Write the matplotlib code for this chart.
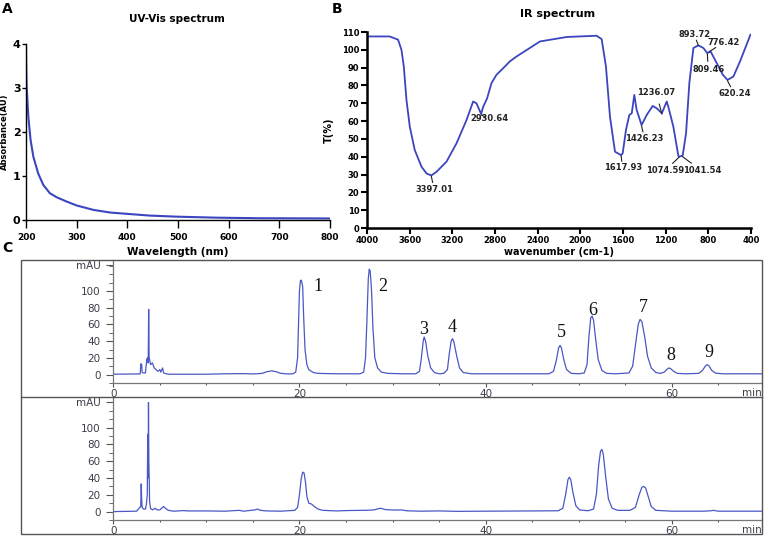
import numpy as np
import matplotlib
matplotlib.use("Agg")
import matplotlib.pyplot as plt
from matplotlib.lines import Line2D
from matplotlib.patches import Rectangle

W, H = 764, 537

# ---------------- data ----------------
# A: UV-Vis absorbance
uv_wl = [200, 200.5, 201.3, 204.6, 209, 214.5, 224, 234, 247, 260, 280, 300,
         333, 366, 399, 445, 497, 576, 662, 730, 800]
uv_abs = [4.0, 3.4, 3.03, 2.35, 1.82, 1.44, 1.06, 0.80, 0.61, 0.52, 0.42, 0.33,
          0.23, 0.17, 0.14, 0.10, 0.076, 0.053, 0.04, 0.038, 0.035]

# B: IR transmittance
ir_wn = [4000, 3787, 3709, 3677, 3655, 3630, 3599, 3552, 3489, 3442, 3397, 3349,
         3255, 3161, 3067, 3005, 2974, 2930, 2911, 2874, 2833, 2786, 2723, 2661,
         2597, 2378, 2128, 1847, 1800, 1760, 1722, 1675, 1618, 1603, 1572, 1541,
         1518, 1494, 1472, 1426, 1378, 1322, 1284, 1236, 1190, 1175, 1128, 1081,
         1074, 1050, 1041, 1009, 978, 940, 894, 846, 809, 784, 776, 721, 664, 620,
         565, 503, 405]
ir_t = [107.5, 107.5, 105.7, 100, 90.7, 71.9, 56.9, 43.7, 34.4, 30.6, 29.5, 31.5,
        37.2, 47.5, 60.6, 71, 70, 64, 68, 72.8, 81.3, 86, 89.7, 93.5,
        96.3, 104.7, 107.2, 107.9, 106, 90.7, 62.5, 42.8, 40.9, 41.9, 55, 63.4,
        64.4, 74.7, 66.3, 57.8, 63.4, 68.5, 67.2, 64.4, 71, 68, 56.9, 40.5,
        40, 40.5, 40.5, 53.1, 81.3, 101, 102.5, 101, 98.1, 99, 98.8, 92.5, 86, 83.1,
        85, 93.5, 108.5]

ir_labels = ["3397.01", "2930.64", "1617.93", "1426.23", "1236.07", "1074.59",
             "1041.54", "893.72", "776.42", "809.46", "620.24"]
ir_peak_wn = [3397, 2930, 1618, 1426, 1236, 1074, 1041, 894, 790, 809, 620]
ir_peak_t = [29.0, 63.5, 40.5, 57.3, 64.0, 39.8, 40.0, 102.5, 99.0, 97.5, 82.6]
ir_text_wn = [3370, 2855, 1603, 1398, 1289, 1208, 860, 933, 660, 801, 557]
ir_text_t = [21.5, 61.2, 33.8, 50.0, 76.3, 32.0, 32.0, 108.8, 104.0, 88.8, 75.3]

# C: chromatograms (retention time in min, signal in mAU)
std_t = [0, 2.6, 2.9, 2.95, 3.05, 3.1, 3.2, 3.45, 3.5, 3.6, 3.7, 3.75, 3.8, 3.85,
         3.9, 4.0, 4.2, 4.4, 4.6, 4.8, 5.0, 5.1, 5.3, 5.4, 5.7, 6, 10, 12, 14, 15,
         16.0, 16.5, 17.0, 17.5, 18.0, 18.8, 19.3, 19.6, 19.8, 19.9, 20.0, 20.1,
         20.2, 20.35, 20.45, 20.6, 20.8, 21.0, 21.5, 22, 24, 26.5, 26.9, 27.1,
         27.25, 27.4, 27.5, 27.6, 27.75, 27.9, 28.1, 28.4, 28.8, 29.5, 31, 32.5,
         32.9, 33.1, 33.3, 33.4, 33.55, 33.8, 34.1, 34.5, 35, 35.5, 35.9, 36.1,
         36.3, 36.45, 36.6, 36.9, 37.2, 37.6, 38.5, 46.8, 47.3, 47.6, 47.85, 48.0,
         48.15, 48.4, 48.7, 49.2, 50, 50.6, 50.9, 51.1, 51.3, 51.45, 51.6, 51.8,
         52.1, 52.5, 53, 54, 55.4, 55.8, 56.1, 56.4, 56.6, 56.8, 57.1, 57.4, 57.8,
         58.3, 58.8, 59.2, 59.5, 59.7, 59.9, 60.2, 60.6, 61.5, 62.9, 63.3, 63.6,
         63.8, 64.0, 64.3, 64.7, 65.5, 69.7]
std_mau = [0.5, 0.8, 1, 13, 12, 3, 2, 2, 8, 19, 20, 14, 78, 20,
           18, 12, 14, 8, 6, 4, 6, 3, 8, 2, 1, 0.5, 0.5, 1, 1.2, 0.8,
           1.5, 3.5, 4.5, 3.5, 1.5, 0.8, 1, 3, 20, 60, 100, 112,
           113, 105, 70, 30, 12, 6, 2.5, 1.5, 1, 1, 3, 20,
           65, 115, 126, 124, 100, 55, 20, 8, 3, 1.5, 1, 1,
           4, 20, 40, 45, 40, 22, 8, 2.5, 1, 1.5, 6, 25,
           40, 43, 39, 22, 8, 2.5, 1, 1, 4, 17, 32, 35,
           32, 18, 6, 1.5, 1, 2, 12, 45, 68, 70, 65, 45,
           18, 5, 1.5, 1, 2, 10, 35, 60, 66, 63, 45, 22, 8,
           2.5, 1.5, 3, 6.5, 8, 7, 4, 1.5, 1, 1.5, 5, 10,
           12, 10.5, 5, 1.8, 1, 1]

smp_t = [0, 2.5, 2.7, 2.85, 2.95, 3.0, 3.05, 3.1, 3.25, 3.45, 3.55, 3.65, 3.7,
         3.75, 3.78, 3.82, 3.86, 3.9, 4.0, 4.2, 4.5, 4.7, 5.0, 5.4, 5.6, 5.9, 6.5,
         7.5, 8, 10, 12, 13.5, 14, 15.2, 15.5, 15.8, 16.5, 18, 19.5, 19.8, 20.0,
         20.2, 20.35, 20.5, 20.65, 20.8, 21.0, 21.3, 21.6, 22.0, 22.5, 24, 25,
         26.5, 27, 28, 28.7, 29.2, 29.8, 30.5, 31, 31.5, 33, 35, 37, 40, 45, 47.8,
         48.3, 48.6, 48.85, 49.0, 49.15, 49.4, 49.7, 50.1, 51, 51.6, 51.9, 52.15,
         52.35, 52.5, 52.65, 52.9, 53.2, 53.6, 54.2, 55.5, 56.1, 56.5, 56.8, 57.0,
         57.2, 57.5, 57.8, 58.3, 60, 63.5, 64.2, 64.5, 65, 69.7]
smp_mau = [0, 0.5, 3, 5, 6, 33, 14, 5, 3, 3, 8, 20, 92,
           40, 130, 60, 38, 12, 4, 2, 4, 2, 2, 6, 4, 1.5, 0.5,
           1.2, 0.8, 0.8, 0.5, 1.5, 0.5, 2, 3, 1.5, 0.8, 0.5, 1.5, 5, 20,
           40, 47, 46, 35, 18, 10, 9, 6, 3, 1.5, 0.8, 1.2,
           1.5, 1.5, 2, 4, 2.5, 2, 1.8, 2, 1, 0.5, 0.8, 0.3, 0.5, 0.8, 1,
           4, 20, 38, 41, 38, 22, 7, 2, 1, 3, 20, 55,
           72, 74, 68, 42, 15, 4, 1.5, 1.5, 5, 20, 29, 30,
           28, 17, 6, 1.5, 0.5, 0.5, 1, 1.5, 0.5, 0.5]

peak_names = ["1", "2", "3", "4", "5", "6", "7", "8", "9"]
peak_label_t = [22.0, 29.0, 33.3, 36.4, 48.1, 51.5, 57.0, 59.9, 64.0]
peak_label_mau = [105, 105, 54, 56, 50, 77, 80, 23, 26.5]

# ---------------- helpers ----------------
def box(x0, y0, x1, y1):
    return [x0 / W, 1 - y1 / H, (x1 - x0) / W, (y1 - y0) / H]

def fx(px):
    return px / W

def fy(py):
    return 1 - py / H

fig = plt.figure(figsize=(W / 100, H / 100), dpi=100)
line_col = "#3b45bf"

# ---------------- A ----------------
axA = fig.add_axes(box(26, 44, 330, 220))
axA.plot(uv_wl, uv_abs, color=line_col, lw=1.5)
axA.set_xlim(200, 800)
axA.set_ylim(0, 4)
axA.set_xticks(range(200, 801, 100))
axA.set_yticks([0, 1, 2, 3, 4])
for s in ["top", "right"]:
    axA.spines[s].set_visible(False)
for s in ["left", "bottom"]:
    axA.spines[s].set_linewidth(1.0)
axA.tick_params(axis="x", direction="out", length=6, width=1.0, pad=3, labelsize=6.5)
axA.tick_params(axis="y", direction="out", length=3, width=1.0, pad=1, labelsize=8)
for lab in axA.get_xticklabels() + axA.get_yticklabels():
    lab.set_fontweight("bold")
axA.set_xlabel("Wavelength (nm)", fontsize=7.5, fontweight="bold", labelpad=4)
axA.set_ylabel("Absorbance(AU)", fontsize=6, fontweight="bold")
axA.yaxis.set_label_coords((9 - 26) / 304, 0.5)
fig.text(fx(177), fy(19), "UV-Vis spectrum", fontsize=7.5, fontweight="bold",
         ha="center", va="center")
fig.text(fx(2), fy(9), "A", fontsize=10, fontweight="bold", ha="left", va="center")

# ---------------- B ----------------
axB = fig.add_axes(box(367, 32, 751, 228))
axB.plot(ir_wn, ir_t, color=line_col, lw=1.3)
axB.set_xlim(4000, 400)
axB.set_ylim(0, 110)
axB.set_xticks(range(4000, 399, -400))
axB.set_yticks(range(0, 111, 10))
for s in ["top", "right"]:
    axB.spines[s].set_visible(False)
for s in ["left", "bottom"]:
    axB.spines[s].set_linewidth(1.8)
axB.tick_params(direction="out", length=4, width=1.5, pad=1.5, labelsize=6)
for lab in axB.get_xticklabels() + axB.get_yticklabels():
    lab.set_fontweight("bold")
axB.set_xlabel("wavenumber (cm-1)", fontsize=7, fontweight="bold", labelpad=2)
axB.set_ylabel("T(%)", fontsize=7, fontweight="bold", labelpad=6)
for lab, pw, pt, tw, tt in zip(ir_labels, ir_peak_wn, ir_peak_t, ir_text_wn, ir_text_t):
    axB.text(tw, tt, lab, fontsize=6, fontweight="bold", color="#222222",
             ha="center", va="center")
    # short leader line from the peak towards the label
    ex = pw + (tw - pw) * 0.45
    ey = pt + (tt - pt) * 0.45
    axB.plot([pw, ex], [pt, ey], color="#222222", lw=0.8)
fig.text(fx(558), fy(14), "IR spectrum", fontsize=8, fontweight="bold",
         ha="center", va="center")
fig.text(fx(332), fy(9), "B", fontsize=10, fontweight="bold", ha="left", va="center")

# ---------------- C ----------------
fig.text(fx(2), fy(248), "C", fontsize=10, fontweight="bold", ha="left", va="center")
frame_col = "#555555"
fig.add_artist(Rectangle((fx(21), fy(534)), (762 - 21) / W, (534 - 260) / H,
                         transform=fig.transFigure, fill=False,
                         edgecolor=frame_col, lw=1.0))
fig.add_artist(Line2D([fx(21), fx(762)], [fy(397), fy(397)],
                      transform=fig.transFigure, color=frame_col, lw=1.0))

txt_col = "#3c3c4c"
chrom_col = "#4a57c4"

def chrom(ax, t, v, ylo, yhi, mau_pos):
    ax.plot(t, v, color=chrom_col, lw=0.9)
    ax.set_xlim(0, 69.7)
    ax.set_ylim(ylo, yhi)
    for s in ["top", "right"]:
        ax.spines[s].set_visible(False)
    for s in ["left", "bottom"]:
        ax.spines[s].set_color("#777777")
        ax.spines[s].set_linewidth(0.9)
    ax.set_xticks([0, 20, 40, 60])
    ax.set_xticks(np.arange(0, 69, 5), minor=True)
    ax.set_yticks([0, 20, 40, 60, 80, 100, mau_pos])
    ax.set_yticklabels(["0", "20", "40", "60", "80", "100", "mAU"])
    ax.set_yticks(np.arange(-10, 131, 10), minor=True)
    ax.tick_params(axis="y", which="major", length=5, width=0.8, color="#555555",
                   labelsize=7.5, labelcolor=txt_col, pad=4)
    ax.tick_params(axis="y", which="minor", length=3, width=0.6, color="#555555")
    ax.tick_params(axis="x", which="major", length=3, width=0.8, color="#555555",
                   labelsize=7.5, labelcolor=txt_col, pad=1)
    ax.tick_params(axis="x", which="minor", length=1.5, width=0.8, color="#555555")
    ax.text(1.0, -0.08, "min", transform=ax.transAxes, fontsize=7.5, color=txt_col,
            ha="right", va="center")

axC1 = fig.add_axes(box(113.3, 260, 762, 383))
chrom(axC1, std_t, std_mau, -7.4, 137, 131)
for name, pt, pv in zip(peak_names, peak_label_t, peak_label_mau):
    axC1.text(pt, pv, name, fontsize=13, family=["Liberation Serif", "DejaVu Serif"],
              color="#111111", ha="center", va="center")

axC2 = fig.add_axes(box(113.3, 397, 762, 520))
chrom(axC2, smp_t, smp_mau, -7.0, 136.5, 130)

fig.savefig("out.png", dpi=100)
